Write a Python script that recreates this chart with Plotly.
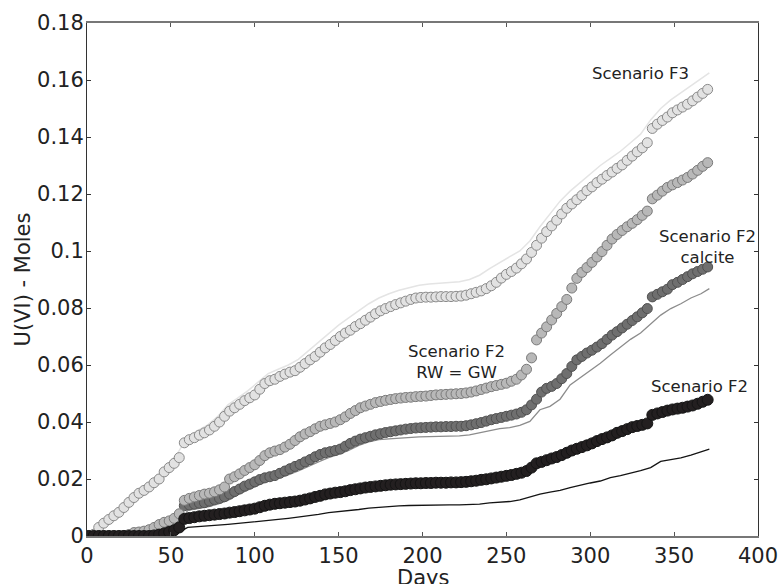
import plotly.graph_objects as go

# ---------------- data ----------------
DAYS_M = list(range(1, 371, 3))          # sampling days of the marker series (124)
DAYS_L = list(range(0, 367, 6)) + [371]   # sampling days of the line series (63)

F3_MARK = [0.0, 0.0006, 0.0030, 0.0045, 0.0058, 0.0071, 0.0083, 0.0100, 0.0118, 0.0135,
           0.0150, 0.0160, 0.0172, 0.0187, 0.0200, 0.0225, 0.0240, 0.0255, 0.0275, 0.0327,
           0.0338, 0.0345, 0.0354, 0.0362, 0.0372, 0.0385, 0.0400, 0.0420, 0.0438, 0.0450,
           0.0462, 0.0475, 0.0485, 0.0495, 0.0515, 0.0535, 0.0545, 0.0550, 0.0560, 0.0568,
           0.0575, 0.0580, 0.0592, 0.0605, 0.0618, 0.0630, 0.0645, 0.0660, 0.0672, 0.0686,
           0.0700, 0.0712, 0.0722, 0.0735, 0.0745, 0.0757, 0.0768, 0.0780, 0.0790, 0.0798,
           0.0805, 0.0812, 0.0818, 0.0824, 0.0830, 0.0835, 0.0837, 0.0838, 0.0838, 0.0839,
           0.0840, 0.0840, 0.0840, 0.0841, 0.0842, 0.0845, 0.0850, 0.0855, 0.0860, 0.0868,
           0.0878, 0.0890, 0.0905, 0.0918, 0.0928, 0.0940, 0.0955, 0.0972, 0.0995, 0.1020,
           0.1045, 0.1068, 0.1088, 0.1108, 0.1130, 0.1150, 0.1165, 0.1180, 0.1195, 0.1212,
           0.1225, 0.1240, 0.1252, 0.1265, 0.1277, 0.1290, 0.1302, 0.1318, 0.1333, 0.1348,
           0.1362, 0.1380, 0.1430, 0.1445, 0.1458, 0.1470, 0.1485, 0.1495, 0.1505, 0.1515,
           0.1527, 0.1540, 0.1553, 0.1567]

RWGW_MARK = [0.0, 0.0, 0.0, 0.0, 0.0, 0.0, 0.0, 0.0002, 0.0005, 0.0012,
             0.0014, 0.0017, 0.0022, 0.0030, 0.0040, 0.0048, 0.0053, 0.0062, 0.0078, 0.0125,
             0.0132, 0.0137, 0.0142, 0.0147, 0.0150, 0.0155, 0.0162, 0.0172, 0.0200, 0.0208,
             0.0218, 0.0230, 0.0240, 0.0250, 0.0265, 0.0282, 0.0292, 0.0298, 0.0303, 0.0312,
             0.0322, 0.0335, 0.0348, 0.0358, 0.0366, 0.0376, 0.0385, 0.0390, 0.0395, 0.0400,
             0.0408, 0.0418, 0.0430, 0.0440, 0.0450, 0.0456, 0.0462, 0.0468, 0.0472, 0.0476,
             0.0479, 0.0482, 0.0484, 0.0486, 0.0487, 0.0489, 0.0490, 0.0491, 0.0493, 0.0495,
             0.0496, 0.0497, 0.0498, 0.0499, 0.0500, 0.0502, 0.0505, 0.0509, 0.0514, 0.0519,
             0.0524, 0.0528, 0.0532, 0.0536, 0.0543, 0.0550, 0.0565, 0.0585, 0.0625, 0.0688,
             0.0712, 0.0734, 0.0758, 0.0781, 0.0805, 0.0830, 0.0870, 0.0904, 0.0925, 0.0942,
             0.0960, 0.0979, 0.0998, 0.1020, 0.1042, 0.1058, 0.1072, 0.1085, 0.1097, 0.1110,
             0.1125, 0.1140, 0.1183, 0.1196, 0.1210, 0.1223, 0.1232, 0.1240, 0.1249, 0.1258,
             0.1270, 0.1283, 0.1297, 0.1310]

CALC_MARK = [0.0, 0.0, 0.0, 0.0, 0.0, 0.0, 0.0, 0.0, 0.0003, 0.0008,
             0.0010, 0.0013, 0.0017, 0.0022, 0.0028, 0.0033, 0.0037, 0.0045, 0.0060, 0.0106,
             0.0109, 0.0112, 0.0115, 0.0117, 0.0122, 0.0128, 0.0132, 0.0138, 0.0147, 0.0156,
             0.0165, 0.0175, 0.0182, 0.0190, 0.0198, 0.0204, 0.0208, 0.0212, 0.0220, 0.0228,
             0.0236, 0.0244, 0.0251, 0.0260, 0.0268, 0.0278, 0.0286, 0.0292, 0.0296, 0.0300,
             0.0305, 0.0315, 0.0325, 0.0333, 0.0340, 0.0345, 0.0350, 0.0355, 0.0359, 0.0363,
             0.0366, 0.0369, 0.0372, 0.0375, 0.0377, 0.0379, 0.0380, 0.0381, 0.0382, 0.0383,
             0.0383, 0.0384, 0.0384, 0.0385, 0.0385, 0.0387, 0.0390, 0.0394, 0.0398, 0.0403,
             0.0408, 0.0412, 0.0416, 0.0420, 0.0424, 0.0428, 0.0434, 0.0443, 0.0460, 0.0480,
             0.0505, 0.0518, 0.0525, 0.0535, 0.0552, 0.0570, 0.0595, 0.0618, 0.0630, 0.0642,
             0.0652, 0.0663, 0.0675, 0.0690, 0.0705, 0.0717, 0.0730, 0.0743, 0.0756, 0.0769,
             0.0783, 0.0798, 0.0839, 0.0848, 0.0857, 0.0866, 0.0882, 0.0890, 0.0900, 0.0910,
             0.0920, 0.0928, 0.0936, 0.0944]

F2_MARK = [0.0, 0.0, 0.0, 0.0, 0.0, 0.0, 0.0, 0.0, 0.0, 0.0,
           0.0, 0.0, 0.0, 0.0002, 0.0005, 0.0009, 0.0014, 0.0020, 0.0030, 0.0060,
           0.0063, 0.0066, 0.0069, 0.0071, 0.0073, 0.0075, 0.0077, 0.0079, 0.0082, 0.0084,
           0.0087, 0.0090, 0.0093, 0.0096, 0.0101, 0.0106, 0.0110, 0.0113, 0.0115, 0.0117,
           0.0119, 0.0121, 0.0124, 0.0128, 0.0132, 0.0137, 0.0141, 0.0146, 0.0149, 0.0152,
           0.0154, 0.0157, 0.0161, 0.0164, 0.0167, 0.0170, 0.0172, 0.0174, 0.0176, 0.0178,
           0.0180, 0.0181, 0.0182, 0.0183, 0.0184, 0.0185, 0.0185, 0.0186, 0.0186, 0.0187,
           0.0187, 0.0187, 0.0188, 0.0188, 0.0189, 0.0190, 0.0192, 0.0194, 0.0197, 0.0199,
           0.0202, 0.0205, 0.0208, 0.0211, 0.0214, 0.0218, 0.0222, 0.0228, 0.0240, 0.0255,
           0.0260, 0.0266, 0.0272, 0.0277, 0.0284, 0.0292, 0.0300, 0.0306, 0.0312, 0.0318,
           0.0325, 0.0333, 0.0340, 0.0346, 0.0353, 0.0362, 0.0368, 0.0375, 0.0382, 0.0386,
           0.0390, 0.0395, 0.0425, 0.0430, 0.0435, 0.0440, 0.0444, 0.0447, 0.0450, 0.0454,
           0.0458, 0.0464, 0.0471, 0.0478]

F3_LINE = [0.0, 0.0030, 0.0062, 0.0090, 0.0125, 0.0160, 0.0180, 0.0210, 0.0250, 0.0290,
           0.0350, 0.0370, 0.0390, 0.0420, 0.0460, 0.0485, 0.0510, 0.0540, 0.0570, 0.0585,
           0.0600, 0.0620, 0.0650, 0.0680, 0.0710, 0.0740, 0.0765, 0.0790, 0.0815, 0.0835,
           0.0850, 0.0862, 0.0872, 0.0880, 0.0884, 0.0886, 0.0888, 0.0892, 0.0900, 0.0915,
           0.0938, 0.0960, 0.0980, 0.1000, 0.1035, 0.1085, 0.1130, 0.1175, 0.1210, 0.1240,
           0.1270, 0.1300, 0.1325, 0.1350, 0.1380, 0.1410, 0.1460, 0.1500, 0.1530, 0.1555,
           0.1580, 0.1605, 0.1625]

CALC_LINE = [0.0, 0.0, 0.0, 0.0, 0.0, 0.0003, 0.0007, 0.0012, 0.0020, 0.0030,
             0.0090, 0.0095, 0.0102, 0.0112, 0.0125, 0.0145, 0.0162, 0.0178, 0.0194, 0.0203,
             0.0214, 0.0228, 0.0245, 0.0260, 0.0275, 0.0286, 0.0300, 0.0318, 0.0330, 0.0338,
             0.0341, 0.0344, 0.0346, 0.0348, 0.0349, 0.0350, 0.0350, 0.0351, 0.0355, 0.0362,
             0.0370, 0.0377, 0.0380, 0.0388, 0.0402, 0.0443, 0.0455, 0.0480, 0.0530, 0.0555,
             0.0580, 0.0606, 0.0635, 0.0662, 0.0690, 0.0712, 0.0745, 0.0775, 0.0798, 0.0815,
             0.0835, 0.0850, 0.0868]

F2_LINE = [0.0, 0.0, 0.0, 0.0, 0.0, 0.0, 0.0, 0.0002, 0.0005, 0.0010,
           0.0030, 0.0032, 0.0035, 0.0038, 0.0041, 0.0044, 0.0047, 0.0050, 0.0054, 0.0058,
           0.0062, 0.0066, 0.0071, 0.0076, 0.0082, 0.0085, 0.0088, 0.0093, 0.0098, 0.0101,
           0.0104, 0.0106, 0.0107, 0.0108, 0.0108, 0.0109, 0.0109, 0.0109, 0.0110, 0.0112,
           0.0116, 0.0118, 0.0121, 0.0127, 0.0137, 0.0147, 0.0154, 0.0160, 0.0170, 0.0179,
           0.0186, 0.0193, 0.0205, 0.0212, 0.0220, 0.0229, 0.0240, 0.0262, 0.0268, 0.0274,
           0.0284, 0.0295, 0.0305]

Y_TICKS = [0, 0.02, 0.04, 0.06, 0.08, 0.1, 0.12, 0.14, 0.16, 0.18]
Y_TICK_TEXT = ["0", "0.02", "0.04", "0.06", "0.08", "0.1", "0.12", "0.14", "0.16", "0.18"]
X_TICKS = [0, 50, 100, 150, 200, 250, 300, 350, 400]

LABELS = [
    ("Scenario F3", 330, 0.1624),
    ("Scenario F2<br>calcite", 370, 0.1014),
    ("Scenario F2<br>RW = GW", 220, 0.0609),
    ("Scenario F2", 365, 0.0524),
]

# ---------------- figure ----------------
FONT = "DejaVu Sans"
TXT = "#222222"
fig = go.Figure()

def add_line(x, y, color, width):
    fig.add_trace(go.Scatter(x=x, y=y, mode="lines", line=dict(color=color, width=width),
                             showlegend=False, hoverinfo="skip"))

def add_marks(x, y, fill, edge, size=10):
    fig.add_trace(go.Scatter(x=x, y=y, mode="markers",
                             marker=dict(symbol="circle", size=size, color=fill,
                                         line=dict(color=edge, width=1)),
                             showlegend=False, hoverinfo="skip"))

add_line(DAYS_L, F3_LINE, "#e4e4e4", 1.5)
add_marks(DAYS_M, F3_MARK, "#e2e2e2", "#8a8a8a")
add_line(DAYS_L, CALC_LINE, "#8c8c8c", 1.3)
add_marks(DAYS_M, CALC_MARK, "#6f6f6f", "#505050")
add_marks(DAYS_M, RWGW_MARK, "#b8b8b8", "#7a7a7a")
add_line(DAYS_L, F2_LINE, "#141414", 1.3)
add_marks(DAYS_M, F2_MARK, "#231f20", "#141414", size=11)

for text, x, y in LABELS:
    fig.add_annotation(x=x, y=y, xref="x", yref="y", text=text, showarrow=False,
                       font=dict(family=FONT, size=16.5, color=TXT),
                       xanchor="center", yanchor="middle", align="center")

# x-axis title placed just under the tick labels (partly cut by the page edge)
fig.add_annotation(x=0.5, y=-0.0818, xref="paper", yref="paper", text="Days",
                   showarrow=False, font=dict(family=FONT, size=21, color=TXT),
                   xanchor="center", yanchor="middle")

fig.update_layout(
    width=782, height=584,
    margin=dict(l=87, r=24, t=23, b=48, autoexpand=False),
    paper_bgcolor="white", plot_bgcolor="white",
    font=dict(family=FONT, size=21, color=TXT),
    showlegend=False,
)
fig.update_xaxes(
    range=[0, 400], tickvals=X_TICKS, ticks="inside", ticklen=4, tickwidth=1,
    tickcolor="#555555", showline=True, linecolor="#777777", linewidth=1.5,
    mirror="ticks", showgrid=False, zeroline=False, ticklabelstandoff=0,
    automargin=False, tickfont=dict(family=FONT, size=21, color=TXT),
)
fig.update_yaxes(
    range=[0, 0.18], tickvals=Y_TICKS, ticktext=Y_TICK_TEXT, ticks="inside", ticklen=4,
    tickwidth=1, tickcolor="#333333", showline=True, linecolor="#333333", linewidth=1,
    mirror="ticks", showgrid=False, zeroline=False, automargin=False, ticklabelstandoff=-2,
    tickfont=dict(family=FONT, size=21, color=TXT),
    title=dict(text="U(VI) - Moles", font=dict(family=FONT, size=21, color=TXT), standoff=0),
)

fig.write_html("out.html")
